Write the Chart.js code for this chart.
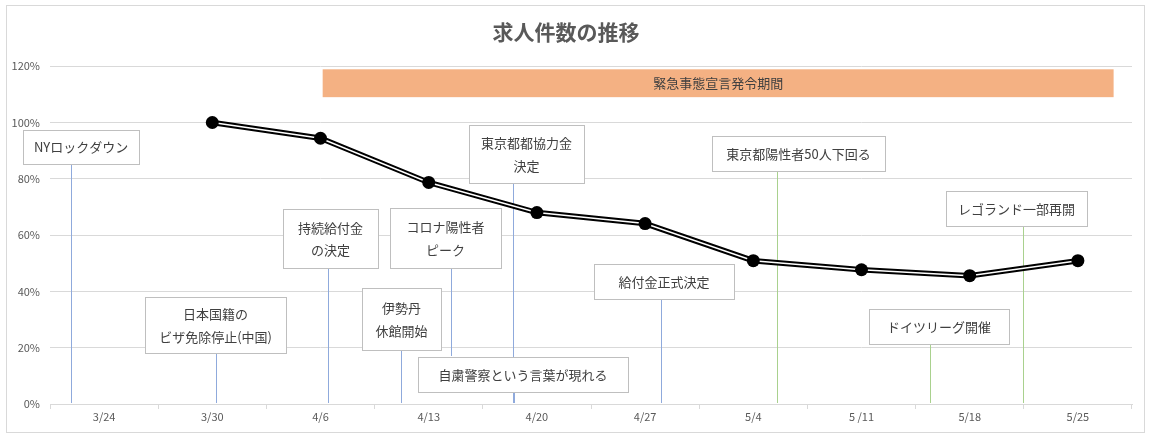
<!DOCTYPE html>
<html>
<head>
<meta charset="utf-8">
<script src="https://cdn.jsdelivr.net/npm/chart.js@4"></script>
<style>
  html, body { margin: 0; padding: 0; background: #fff; }
  #wrap { width: 1149px; height: 439px; }
</style>
</head>
<body>
<div id="wrap"><canvas id="chart" width="1149" height="439"></canvas></div>
<script>
// ---- data ----
const categories = ["3/24", "3/30", "4/6", "4/13", "4/20", "4/27", "5/4", "5/11", "5/18", "5/25"];
const jobRatio = [null, 100, 94.4, 78.7, 68.0, 64.1, 50.9, 47.7, 45.6, 50.9];
const yTicks = [0, 20, 40, 60, 80, 100, 120];

// 緊急事態宣言の期間 (category index, fractional)
const emergencyLabel = "緊急事態宣言発令期間";
const emergencyFrom = 2.02;
const emergencyTo = 9.33;

// events: text lines, date position (category index)
const eventTexts = [
    ["NYロックダウン"],
    ["日本国籍の", "ビザ免除停止(中国)"],
    ["持続給付金", "の決定"],
    ["伊勢丹", "休館開始"],
    ["コロナ陽性者", "ピーク"],
    ["東京都都協力金", "決定"],
    ["自粛警察という言葉が現れる"],
    ["給付金正式決定"],
    ["東京都陽性者50人下回る"],
    ["ドイツリーグ開催"],
    ["レゴランド一部再開"]
];
const eventAt = [-0.306, 1.034, 2.069, 2.744, 3.206, 3.779, 3.788, 5.147, 6.219, 7.633, 8.492];

// ---- layout of callouts (box centre index, box top %, width px, height px, line end %, colour) ----
const boxCenter = [-0.213, 1.030, 2.092, 2.749, 3.155, 3.904, 3.871, 5.175, 6.418, 7.716, 8.433];
const boxTop = [97.2, 38.1, 69.4, 41.3, 69.8, 99.0, 16.7, 49.9, 95.1, 33.8, 75.5];
const boxW = [116, 141, 95, 79, 111, 115, 210, 140, 173, 140, 141];
const boxH = [34, 56, 59, 62, 60, 58, 35, 35, 35, 35, 35];
const lineEnd = [0, 0, 0, 0, 16.7, 0, 0, 0, 0, 0, 0];
const lineColor = ["#8faadc", "#8faadc", "#8faadc", "#8faadc", "#8faadc", "#8faadc", "#8faadc", "#8faadc",
                   "#a9d18e", "#a9d18e", "#a9d18e"];

const JP = '"Noto Sans CJK JP", "Noto Sans", sans-serif';
Chart.defaults.font.family = JP;

const decorations = {
    id: "decorations",
    beforeDraw(chart) {
        const c = chart.ctx;
        c.save();
        c.strokeStyle = "#d9d9d9";
        c.lineWidth = 1;
        c.strokeRect(6.5, 5.5, 1138, 427);
        c.restore();
    },
    beforeDatasetsDraw(chart) {
        const c = chart.ctx;
        const x = chart.scales.x, y = chart.scales.y;
        c.save();

        // emergency period band
        const bx1 = x.getPixelForValue(emergencyFrom), bx2 = x.getPixelForValue(emergencyTo);
        const by1 = y.getPixelForValue(118.9), by2 = y.getPixelForValue(109);
        c.fillStyle = "#f4b183";
        c.fillRect(bx1, by1, bx2 - bx1, by2 - by1);
        c.fillStyle = "#404040";
        c.font = "13px " + JP;
        c.textAlign = "center";
        c.textBaseline = "middle";
        c.fillText(emergencyLabel, (bx1 + bx2) / 2, (by1 + by2) / 2);

        // connector lines
        eventAt.forEach((d, i) => {
            const lx = Math.round(x.getPixelForValue(d)) + 0.5;
            c.strokeStyle = lineColor[i];
            c.lineWidth = 1;
            c.beginPath();
            c.moveTo(lx, y.getPixelForValue(boxTop[i]) + boxH[i]);
            c.lineTo(lx, y.getPixelForValue(lineEnd[i]) - 1);
            c.stroke();
        });

        // boxes
        eventTexts.forEach((lines, i) => {
            const cx = x.getPixelForValue(boxCenter[i]);
            const top = Math.round(y.getPixelForValue(boxTop[i])) + 0.5;
            const left = Math.round(cx - boxW[i] / 2) + 0.5;
            c.fillStyle = "#ffffff";
            c.fillRect(left, top, boxW[i], boxH[i]);
            c.strokeStyle = "#bfbfbf";
            c.lineWidth = 1;
            c.strokeRect(left, top, boxW[i], boxH[i]);
            c.fillStyle = "#404040";
            c.font = "13px " + JP;
            const gap = 22.5;
            const mid = top + boxH[i] / 2;
            lines.forEach((t, k) => {
                c.fillText(t, cx, mid + (k - (lines.length - 1) / 2) * gap);
            });
        });
        c.restore();
    }
};

new Chart(document.getElementById("chart"), {
    type: "line",
    data: {
        labels: categories,
        datasets: [
            // inner white line + markers (drawn on top)
            {
                data: jobRatio,
                borderColor: "#ffffff",
                borderWidth: 1.5,
                pointRadius: 6.5,
                pointBackgroundColor: "#000000",
                pointBorderColor: "#000000",
                pointBorderWidth: 0,
                tension: 0,
                order: 1
            },
            // outer black line
            {
                data: jobRatio,
                borderColor: "#000000",
                borderWidth: 5.5,
                pointRadius: 0,
                tension: 0,
                order: 2
            }
        ]
    },
    options: {
        responsive: false,
        animation: false,
        layout: { padding: { top: 5, right: 17, bottom: 0, left: 0 } },
        plugins: {
            legend: { display: false },
            tooltip: { enabled: false },
            title: {
                display: true,
                text: "求人件数の推移",
                color: "#595959",
                font: { size: 21, weight: "bold", family: JP },
                padding: { top: 14, bottom: 22 }
            }
        },
        scales: {
            x: {
                offset: true,
                grid: { offset: true, drawOnChartArea: false, drawTicks: true, tickLength: 5, color: "#d9d9d9" },
                border: { color: "#d9d9d9" },
                ticks: { color: "#595959", font: { size: 11 }, padding: 1,
                         callback: (v, i) => categories[i] === "5/11" ? "5 /11" : categories[i] },
                afterFit: s => { s.height = 35; }
            },
            y: {
                min: 0,
                max: 120,
                afterBuildTicks: s => { s.ticks = yTicks.map(v => ({ value: v })); },
                grid: { color: "#d9d9d9", drawTicks: false },
                border: { display: false },
                ticks: { color: "#595959", font: { size: 11 }, padding: 10, callback: v => v + "%" },
                afterFit: s => { s.width = 50; }
            }
        }
    },
    plugins: [decorations]
});
</script>
</body>
</html>
